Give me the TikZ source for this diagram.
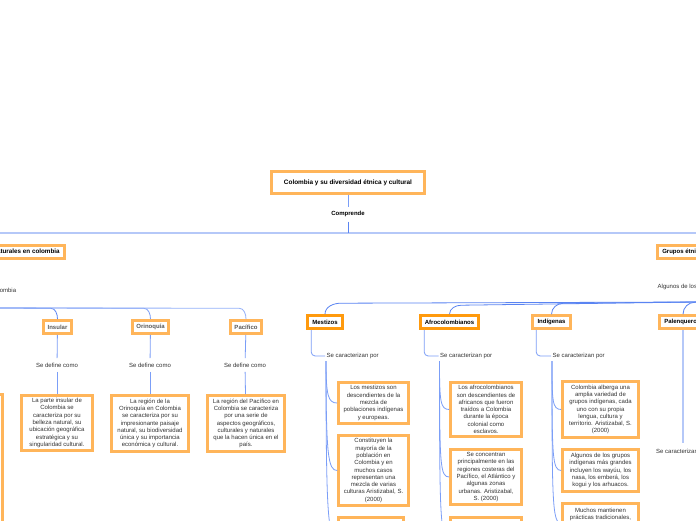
\documentclass[tikz,border=0pt]{standalone}
\usepackage{fontspec}
\setmainfont{Liberation Sans}
\usetikzlibrary{calc}
\definecolor{orL}{HTML}{FFB55A}
\definecolor{orD}{HTML}{FF9A0D}
\definecolor{blL}{HTML}{B5C8F8}
\definecolor{blM}{HTML}{7B9EF7}
\definecolor{blD}{HTML}{5A84F2}
\definecolor{txt}{HTML}{333333}
\begin{document}
\begin{tikzpicture}[x=1pt,y=-1pt,
 box/.style={draw=orL, line width=2.6pt, fill=white, inner sep=0pt, align=center, font=\fontsize{6}{7.3}\selectfont, text=txt},
 head/.style={box, font=\fontsize{6}{7}\selectfont\bfseries, text=black},
 sub/.style={box, font=\fontsize{6}{7}\selectfont\bfseries, text=black!65},
 lab/.style={font=\fontsize{6}{7}\selectfont, text=txt, inner xsep=1.5pt, inner ysep=4.5pt},
 conn/.style={draw=blM, line width=0.8pt},
]
\useasboundingbox (0,0) rectangle (696,520);
\clip (0,0) rectangle (696,520);
\fill[white] (0,0) rectangle (696,520);

% root
\node[head, font=\fontsize{6.4}{7}\selectfont\bfseries, minimum width=153pt, minimum height=22pt] (root) at (348,182.5) {Colombia y su diversidad étnica y cultural};
\node[lab, font=\fontsize{6}{7}\selectfont\bfseries, text=black] (comp) at (348,214) {Comprende};
\coordinate (bar) at (348,233);
\coordinate (barL) at (0,233);
\coordinate (barR) at (696,233);
\draw[draw=blL, line width=1.6pt] (barL) -- (barR);
\draw[conn] (root) -- (comp);
\draw[conn, draw=blD] (comp) -- (bar);

% left branch
\node[head, font=\fontsize{6.3}{7}\selectfont\bfseries, anchor=east, minimum height=13pt, inner xsep=5pt] (reg) at (66,252) {Regiones naturales en colombia};
\node[lab, anchor=east] (regsub) at (17.8,290) {Colombia};
\coordinate (lbar) at (0,308);

\node[sub, minimum width=28pt, minimum height=13pt] (ins) at (57.5,327) {Insular};
\node[sub, minimum width=36pt, minimum height=13pt] (ori) at (150.5,327) {Orinoquía};
\node[sub, minimum width=31pt, minimum height=13pt] (pac) at (246,327) {Pacífico};

\draw[conn, draw=blD] (lbar) -- ($(ins.north)+(-7,-11)$) to[out=0,in=90] (ins.north);
\draw[conn] (lbar) -- ($(ori.north)+(-7,-11)$) to[out=0,in=90] (ori.north);
\draw[conn, draw=blM!80] (lbar) -- ($(pac.north)+(-7,-11)$) to[out=0,in=90] (pac.north);

\node[lab] (sd1) at (57,365) {Se define como};
\node[lab] (sd2) at (150,365) {Se define como};
\node[lab] (sd3) at (245,365) {Se define como};

\node[box, minimum width=71pt, minimum height=55pt] (d1) at (57,423) {La parte insular de\\Colombia se\\caracteriza por su\\belleza natural, su\\ubicación geográfica\\estratégica y su\\singularidad cultural.};
\node[box, minimum width=77pt, minimum height=56pt] (d2) at (150,423.5) {La región de la\\Orinoquía en Colombia\\se caracteriza por su\\impresionante paisaje\\natural, su biodiversidad\\única y su importancia\\económica y cultural.};
\node[box, minimum width=77pt, minimum height=56pt] (d3) at (246,423.5) {La región del Pacífico en\\Colombia se caracteriza\\por una serie de\\aspectos geográficos,\\culturales y naturales\\que la hacen única en el\\país.};
\node[box, anchor=north east, minimum width=70pt, minimum height=150pt] (lp) at (4,393) {};

\draw[conn] (ins) -- (sd1);
\draw[conn] (sd1) -- (d1);
\draw[conn] (ori) -- (sd2);
\draw[conn] (sd2) -- (d2);
\draw[conn] (pac) -- (sd3);
\draw[conn] (sd3) -- (d3);

% right branch
\node[head, anchor=west, minimum height=13pt, inner xsep=5pt] (grp) at (656,252) {Grupos étnicos en Colombia};
\node[lab, anchor=west] (alg) at (656,287) {Algunos de los grupos étnicos son};
\coordinate (rbar) at (696,302);

\node[head, draw=orD, minimum width=35pt, minimum height=13pt] (mest) at (325,322) {Mestizos};
\node[head, draw=orD, minimum width=58pt, minimum height=13pt] (afro) at (449.5,322) {Afrocolombianos};
\node[head, minimum width=38pt, minimum height=13pt] (ind) at (551.5,322) {Indígenas};
\node[head, anchor=west, minimum height=13pt, inner xsep=5pt] (pal) at (658,322) {Palenqueros};

\draw[conn, draw=blD] (rbar) -- ($(mest.north)+(16,-11)$) to[out=180,in=90] (mest.north);
\draw[conn, draw=blD] (rbar) -- ($(afro.north)+(12,-9)$) to[out=180,in=90] (afro.north);
\draw[conn, draw=blD] (rbar) -- ($(ind.north)+(12,-11)$) to[out=180,in=90] (ind.north);
\draw[conn, draw=blD] (rbar) -- ($(pal.north west)+(37,-12)$) to[out=180,in=90] ($(pal.north west)+(25,0)$);

\node[lab, anchor=west, inner ysep=1pt] (scp1) at (325,356) {Se caracterizan por};
\node[lab, anchor=west, inner ysep=1pt] (scp2) at (438.5,356) {Se caracterizan por};
\node[lab, anchor=west, inner ysep=1pt] (scp3) at (551,356) {Se caracterizan por};
\node[lab, anchor=west, inner ysep=1pt] (scp4) at (654.5,452) {Se caracterizan por};
\coordinate (palb) at (683,443);

\draw[conn, rounded corners=4pt] ($(mest.south west)+(5,0)$) |- (scp1.west);
\draw[conn, rounded corners=4pt] ($(afro.south west)+(5,0)$) |- (scp2.west);
\draw[conn, rounded corners=4pt] ($(ind.south west)+(5,0)$) |- (scp3.west);
\draw[conn, draw=blL, line width=1.1pt] ($(pal.south west)+(25,0)$) -- (palb);

% Mestizos children
\node[box, minimum width=70pt, minimum height=41pt] (m1) at (373.5,403) {Los mestizos son\\descendientes de la\\mezcla de\\poblaciones indígenas\\y europeas.};
\node[box, minimum width=70pt, minimum height=70pt] (m2) at (373.5,470.5) {Constituyen la\\mayoría de la\\población en\\Colombia y en\\muchos casos\\representan una\\mezcla de varias\\culturas Aristizabal, S.\\(2000)};
\node[box, anchor=north, minimum width=65pt, minimum height=40pt] (m3) at (371,516) {};

% Afro children
\node[box, minimum width=71pt, minimum height=54pt] (a1) at (486,409.5) {Los afrocolombianos\\son descendientes de\\africanos que fueron\\traídos a Colombia\\durante la época\\colonial como\\esclavos.};
\node[box, minimum width=71pt, minimum height=55pt] (a2) at (486,477) {Se concentran\\principalmente en las\\regiones costeras del\\Pacífico, el Atlántico y\\algunas zonas\\urbanas. Aristizabal,\\S. (2000)};
\node[box, anchor=north, minimum width=71pt, minimum height=40pt] (a3) at (486,516) {};

% Indigenas children
\node[box, minimum width=76pt, minimum height=56pt] (i1) at (600.5,409.5) {Colombia alberga una\\amplia variedad de\\grupos indígenas, cada\\uno con su propia\\lengua, cultura y\\territorio. Aristizabal, S.\\(2000)};
\node[box, minimum width=76pt, minimum height=42pt] (i2) at (600.5,470.5) {Algunos de los grupos\\indígenas más grandes\\incluyen los wayúu, los\\nasa, los emberá, los\\kogui y los arhuacos.};
\node[box, anchor=north, minimum width=76pt, minimum height=40pt] (i3) at (600.5,502) {};
\node[lab, anchor=north, align=center, font=\fontsize{6}{7.3}\selectfont, inner sep=0pt] (i3t) at ($(i3.north)+(0,5.5)$) {Muchos mantienen\\prácticas tradicionales,};

% child connectors
\foreach \s/\b/\d in {scp1/m1/35, scp1/m2/95, scp1/m3/160, scp2/a1/40, scp2/a2/105, scp2/a3/160, scp3/i1/40, scp3/i2/95, scp3/i3/140}{
  \draw[conn] ($(\s.south west)+(1,1)$) .. controls +(0,\d) and +(-9,0) .. (\b.west);
}
\end{tikzpicture}
\end{document}
